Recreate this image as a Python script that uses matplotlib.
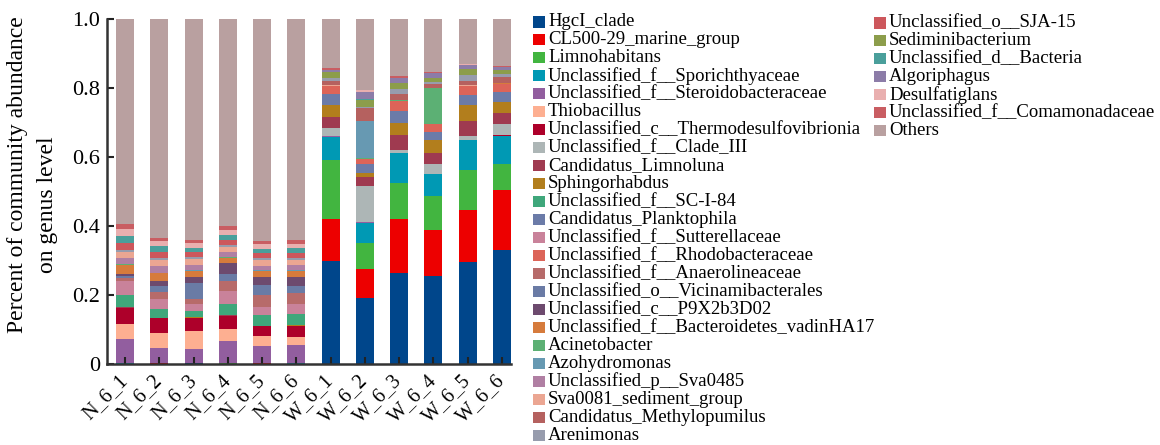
import matplotlib
matplotlib.use("Agg")
import matplotlib.pyplot as plt
from matplotlib.patches import Rectangle
import numpy as np

plt.rcParams['font.family'] = ['Liberation Serif', 'DejaVu Serif']

samples = ["N_6_1", "N_6_2", "N_6_3", "N_6_4", "N_6_5", "N_6_6",
           "W_6_1", "W_6_2", "W_6_3", "W_6_4", "W_6_5", "W_6_6"]

genera = [
    "HgcI_clade", "CL500-29_marine_group", "Limnohabitans",
    "Unclassified_f__Sporichthyaceae", "Unclassified_f__Steroidobacteraceae",
    "Thiobacillus", "Unclassified_c__Thermodesulfovibrionia",
    "Unclassified_f__Clade_III", "Candidatus_Limnoluna", "Sphingorhabdus",
    "Unclassified_f__SC-I-84", "Candidatus_Planktophila",
    "Unclassified_f__Sutterellaceae", "Unclassified_f__Rhodobacteraceae",
    "Unclassified_f__Anaerolineaceae", "Unclassified_o__Vicinamibacterales",
    "Unclassified_c__P9X2b3D02", "Unclassified_f__Bacteroidetes_vadinHA17",
    "Acinetobacter", "Azohydromonas", "Unclassified_p__Sva0485",
    "Sva0081_sediment_group", "Candidatus_Methylopumilus", "Arenimonas",
    "Unclassified_o__SJA-15", "Sediminibacterium", "Unclassified_d__Bacteria",
    "Algoriphagus", "Desulfatiglans", "Unclassified_f__Comamonadaceae", "Others",
]

colors = [
    "#00468B", "#ED0000", "#42B540", "#0099B4", "#925E9F", "#FDAF91",
    "#AD002A", "#ADB6B6", "#9F3A50", "#B27E1D", "#3FA77B", "#6B7BA8",
    "#C9829A", "#DC6458", "#B76B6A", "#6A7BA5", "#6D4A6E", "#D67B3C",
    "#5CB074", "#6799B2", "#B07FA3", "#EBA692", "#B5615F", "#979CAD",
    "#CD575C", "#8C9D4B", "#4A9F9B", "#8C7CA8", "#E9AFAF", "#C95D62",
    "#B9A0A0",
]

# Relative abundance per genus, samples in the order of `samples`
hgci_clade         = [0, 0, 0.002, 0, 0, 0, 0.298, 0.192, 0.264, 0.256, 0.297, 0.331]
cl500_29           = [0, 0.002, 0, 0, 0.004, 0, 0.122, 0.083, 0.156, 0.132, 0.150, 0.173]
limnohabitans      = [0, 0, 0, 0.003, 0, 0, 0.171, 0.076, 0.105, 0.099, 0.116, 0.075]
sporichthyaceae    = [0.003, 0.002, 0, 0, 0, 0.004, 0.068, 0.059, 0.087, 0.064, 0.087, 0.081]
steroidobacteraceae = [0.070, 0.0435, 0.041, 0.063, 0.048, 0.051, 0.003, 0.003, 0, 0, 0, 0]
thiobacillus       = [0.043, 0.041, 0.054, 0.035, 0.029, 0.023, 0, 0, 0, 0, 0, 0]
thermodesulfo      = [0.046, 0.0435, 0.035, 0.038, 0.029, 0.032, 0, 0, 0, 0, 0, 0.003]
clade_iii          = [0, 0, 0, 0, 0, 0, 0.022, 0.103, 0.0087, 0.029, 0.0116, 0.032]
limnoluna          = [0.003, 0, 0, 0.003, 0, 0, 0.032, 0.026, 0.0435, 0.032, 0.0435, 0.032]
sphingorhabdus     = [0, 0, 0.003, 0, 0, 0.003, 0.035, 0.0116, 0.034, 0.0377, 0.046, 0.032]
sc_i_84            = [0.035, 0.028, 0.020, 0.032, 0.032, 0.032, 0, 0, 0, 0, 0, 0]
planktophila       = [0, 0, 0, 0, 0, 0, 0.032, 0.027, 0.035, 0.023, 0.029, 0.029]
sutterellaceae     = [0.041, 0.027, 0.020, 0.038, 0.023, 0.029, 0, 0, 0, 0, 0, 0]
rhodobacteraceae   = [0, 0, 0, 0, 0, 0, 0.023, 0.0135, 0.030, 0.023, 0.026, 0.023]
anaerolineaceae    = [0.008, 0.023, 0.0145, 0.029, 0.035, 0.032, 0, 0, 0, 0, 0, 0]
vicinamibacterales = [0.007, 0.017, 0.046, 0.020, 0.029, 0.020, 0, 0, 0, 0, 0, 0]
p9x2b3d02          = [0.006, 0.0145, 0.0174, 0.032, 0.023, 0.026, 0, 0, 0, 0, 0, 0]
vadinha17          = [0.025, 0.021, 0.0174, 0.0145, 0.0174, 0.0174, 0, 0, 0, 0, 0, 0.004]
acinetobacter      = [0.003, 0, 0, 0.003, 0, 0, 0, 0.002, 0.003, 0.104, 0, 0]
azohydromonas      = [0, 0, 0.003, 0, 0.003, 0.003, 0, 0.107, 0, 0, 0, 0]
sva0485            = [0.018, 0.022, 0.0145, 0.0145, 0.0116, 0.0145, 0, 0, 0, 0, 0, 0]
sva0081            = [0.018, 0.018, 0.0174, 0.0145, 0.0164, 0.0145, 0.004, 0, 0, 0, 0.003, 0]
methylopumilus     = [0, 0, 0, 0, 0, 0, 0.0097, 0.0377, 0.0174, 0.0116, 0.0116, 0.0174]
arenimonas         = [0.005, 0.0058, 0.0058, 0.0058, 0.007, 0.0058, 0.0097, 0.003, 0.0145, 0.0058, 0.0174, 0.0087]
sja_15             = [0.021, 0.0174, 0.0145, 0.0145, 0.0145, 0.0145, 0, 0, 0, 0, 0, 0]
sediminibacterium  = [0, 0, 0, 0, 0, 0, 0.016, 0.020, 0.0174, 0.0116, 0.0174, 0.0116]
d_bacteria         = [0.019, 0.0164, 0.0116, 0.0145, 0.0116, 0.0145, 0, 0.003, 0, 0, 0, 0]
algoriphagus       = [0, 0, 0, 0, 0, 0, 0.008, 0.023, 0.0145, 0.0145, 0.0116, 0.0087]
desulfatiglans     = [0.020, 0.0145, 0.0145, 0.0145, 0.0145, 0.0116, 0, 0.003, 0, 0, 0.003, 0]
comamonadaceae     = [0.0145, 0.0087, 0.0087, 0.0116, 0.0087, 0.0116, 0.005, 0, 0.004, 0.003, 0, 0.003]
others             = [0.594, 0.635, 0.640, 0.600, 0.643, 0.641, 0.142, 0.207, 0.166, 0.154, 0.130, 0.136]

abundance = [
    hgci_clade, cl500_29, limnohabitans, sporichthyaceae, steroidobacteraceae,
    thiobacillus, thermodesulfo, clade_iii, limnoluna, sphingorhabdus, sc_i_84,
    planktophila, sutterellaceae, rhodobacteraceae, anaerolineaceae,
    vicinamibacterales, p9x2b3d02, vadinha17, acinetobacter, azohydromonas,
    sva0485, sva0081, methylopumilus, arenimonas, sja_15, sediminibacterium,
    d_bacteria, algoriphagus, desulfatiglans, comamonadaceae, others,
]

W, H = 1160, 445
fig = plt.figure(figsize=(W / 100, H / 100), dpi=100)
ax = fig.add_axes([107 / W, 81 / H, (511 - 107) / W, (364 - 19) / H])

x = np.arange(len(samples))
bottom = np.zeros(len(samples))
for name, vals, col in zip(genera, abundance, colors):
    v = np.array(vals, dtype=float)
    ax.bar(x, v, bottom=bottom, width=0.525, color=col, linewidth=0, label=name)
    bottom += v

ax.set_xlim(-0.525, 11.2625)
ax.set_ylim(0, 1.0)
ax.set_yticks([0, 0.2, 0.4, 0.6, 0.8, 1.0])
ax.set_yticklabels(["0", "0.2", "0.4", "0.6", "0.8", "1.0"], fontsize=16)
ax.set_xticks(x)
ax.set_xticklabels(samples, fontsize=14.5, rotation=45, ha="right",
                   rotation_mode="anchor", va="center")
ax.tick_params(axis="both", direction="in", length=5, width=1.5, color="#222222")
ax.tick_params(axis="x", pad=10)
ax.tick_params(axis="y", pad=5)
for side in ("top", "right"):
    ax.spines[side].set_visible(False)
for side in ("left", "bottom"):
    ax.spines[side].set_linewidth(1.8)
    ax.spines[side].set_color("#333333")


def px(xp, yp):
    """Figure fraction from pixel position measured from the top-left."""
    return xp / W, 1 - yp / H


# Two-line axis title
fig.text(*px(18, 175), "Percent of community abundance", rotation=90,
         ha="center", va="center", fontsize=17)
fig.text(*px(48, 205), "on genus level", rotation=90,
         ha="center", va="center", fontsize=17)

# Legend in two columns: 24 entries, then the remaining 7
columns = [(533, 22, 0, 24), (874, 23, 24, len(genera))]
pitch = 17.96
for x0, y0, i0, i1 in columns:
    for row, i in enumerate(range(i0, i1)):
        yc = y0 + row * pitch
        fx, fy = px(x0, yc + 5.5)
        fig.patches.append(Rectangle((fx, fy), 12 / W, 11 / H, facecolor=colors[i],
                                     edgecolor="none", transform=fig.transFigure,
                                     figure=fig))
        fig.text(*px(x0 + 15, yc), genera[i], ha="left", va="center",
                 fontsize=13.5)

fig.savefig("out.png", dpi=100)
